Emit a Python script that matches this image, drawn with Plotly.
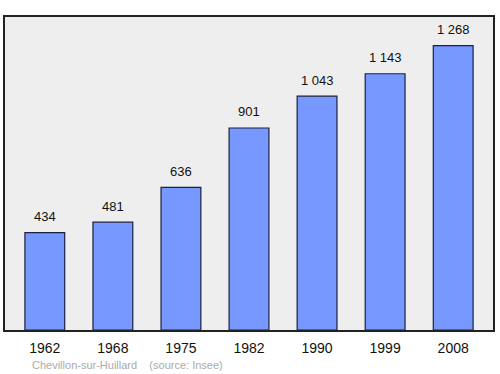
import plotly.graph_objects as go

years = ["1962", "1968", "1975", "1982", "1990", "1999", "2008"]
population = [434, 481, 636, 901, 1043, 1143, 1268]
labels = ["434", "481", "636", "901", "1 043", "1 143", "1 268"]

fig = go.Figure()
fig.add_trace(go.Bar(
    x=years, y=population, width=0.585,
    marker=dict(color="#7799ff", line=dict(color="#1a2040", width=1.2)),
    hoverinfo="skip",
))
for i, (v, t) in enumerate(zip(population, labels)):
    fig.add_annotation(x=i, y=v, xref="x", yref="y", text=t, showarrow=False, yshift=16,
                       font=dict(family="Liberation Sans, Arial", size=13, color="#111"))

fig.add_annotation(xref="paper", yref="paper", x=0.052, y=-0.112, xanchor="left", yanchor="middle",
                   text="Chevillon-sur-Huillard&nbsp;&nbsp;&nbsp;&nbsp;(source: Insee)", showarrow=False,
                   font=dict(family="Liberation Sans, Arial", size=11, color="#aaaaaa"))

fig.update_layout(
    width=500, height=374,
    margin=dict(l=5, r=5, t=17, b=44),
    paper_bgcolor="white", plot_bgcolor="#eeeeee",
    showlegend=False,
    xaxis=dict(type="category", range=[-0.585, 6.585], showgrid=False,
               ticks="outside", ticklen=4, tickcolor="rgba(0,0,0,0)",
               tickfont=dict(family="Liberation Sans, Arial", size=14, color="#111"),
               showline=True, linecolor="#222", linewidth=1.5, mirror=True, fixedrange=True),
    yaxis=dict(range=[0, 1396], showgrid=False, showticklabels=False, ticks="", zeroline=False,
               showline=True, linecolor="#222", linewidth=1.5, mirror=True, fixedrange=True),
)
fig.write_html("out.html")
